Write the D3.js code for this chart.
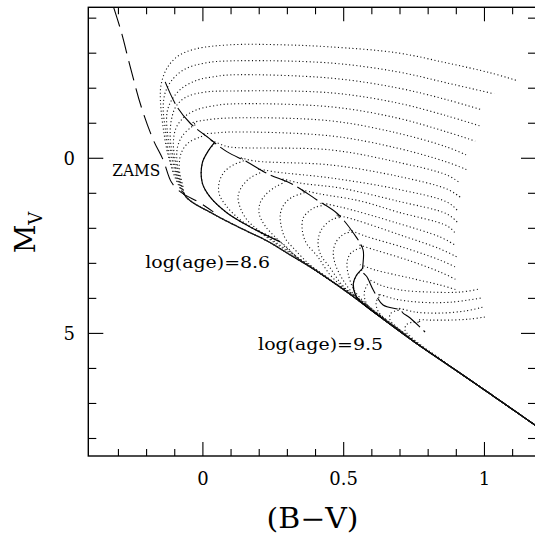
<!DOCTYPE html>
<html><head><meta charset="utf-8">
<script src="https://cdn.jsdelivr.net/npm/d3@7"></script>
<style>body{margin:0;background:#fff}svg{display:block}</style>
</head><body><svg id="c" width="535" height="536"></svg>
<script>
// ---------------- data ----------------
// shared lower main sequence (B-V, M_V)
const msBV = [1.18, 0.985, 0.867, 0.747, 0.63, 0.512, 0.392, 0.31, 0.228, 0.133, 0.037, -0.059];
const msMV = [7.62, 6.53, 5.88, 5.22, 4.53, 3.82, 3.16, 2.76, 2.36, 1.99, 1.59, 1.11];

// zero-age main sequence (long dashes)
const zamsBV = [-0.317, -0.290, -0.258, -0.219, -0.176, -0.141, -0.112, -0.080, -0.009, 0.037];
const zamsMV = [-4.31, -3.61, -2.61, -1.47, -0.52, 0.05, 0.68, 0.96, 1.28, 1.53];

// envelope line (dashed) through the turn-off hooks
const envBV = [-0.134,-0.092,-0.045,0.014,0.085,0.156,0.227,0.322,0.405,0.476,0.535,0.569,0.569,0.583,0.605,0.640,0.701,0.711,0.736,0.789];
const envMV = [-2.18,-1.47,-1.00,-0.62,-0.19,0.10,0.43,0.76,1.19,1.57,2.14,2.62,3.25,3.39,3.76,4.19,4.33,4.42,4.56,4.96];

// isochrones above the main sequence: [B-V, M_V]
const iso79 = [[-0.095,0.62],[-0.123,-0.07],[-0.141,-0.87],[-0.151,-1.67],[-0.148,-2.12],[-0.127,-2.58],[-0.088,-2.92],[-0.027,-3.12],[0.097,-3.24],[0.275,-3.24],[0.452,-3.18],[0.690,-3.01],[0.867,-2.72],[1.020,-2.44],[1.119,-2.21]];
const iso80 = [[-0.091,0.62],[-0.119,-0.07],[-0.134,-0.87],[-0.141,-1.44],[-0.134,-1.87],[-0.109,-2.24],[-0.063,-2.55],[0.008,-2.72],[0.097,-2.78],[0.452,-2.72],[0.690,-2.47],[0.867,-2.15],[1.034,-1.84]];
const iso81 = [[-0.088,0.62],[-0.112,-0.07],[-0.127,-0.81],[-0.127,-1.32],[-0.109,-1.69],[-0.073,-2.01],[-0.017,-2.24],[0.033,-2.32],[0.097,-2.38],[0.452,-2.29],[0.690,-2.01],[0.867,-1.67],[0.992,-1.38]];
const iso82 = [[-0.084,0.65],[-0.105,-0.01],[-0.116,-0.58],[-0.112,-1.09],[-0.095,-1.49],[-0.059,-1.75],[0.008,-1.89],[0.097,-1.92],[0.452,-1.87],[0.690,-1.58],[0.867,-1.21],[0.985,-0.92]];
const iso83 = [[-0.080,0.68],[-0.098,0.05],[-0.105,-0.44],[-0.095,-0.87],[-0.066,-1.18],[-0.024,-1.38],[0.033,-1.49],[0.097,-1.55],[0.452,-1.47],[0.690,-1.15],[0.867,-0.75],[0.967,-0.49]];
const iso84 = [[-0.077,0.71],[-0.091,0.16],[-0.091,-0.29],[-0.073,-0.64],[-0.041,-0.89],[-0.024,-0.98],[-0.038,-1.01],[0.008,-1.09],[0.097,-1.15],[0.452,-1.07],[0.690,-0.72],[0.867,-0.32],[0.942,-0.07]];
const iso85 = [[-0.073,0.73],[-0.084,0.28],[-0.077,-0.15],[-0.052,-0.44],[-0.009,-0.61],[0.012,-0.67],[-0.002,-0.69],[0.044,-0.72],[0.097,-0.75],[0.452,-0.64],[0.690,-0.29],[0.867,0.11],[0.938,0.33]];
const iso86 = [[0.346,2.91],[0.275,2.39],[0.168,1.96],[0.086,1.56],[0.026,1.11],[-0.002,0.71],[-0.002,0.13],[0.019,-0.21],[0.040,-0.44],[0.026,-0.52],[0.069,-0.38],[0.097,-0.32],[0.452,-0.24],[0.690,0.11],[0.867,0.48],[0.914,0.71]];
const iso87 = [[0.374,3.05],[0.292,2.62],[0.204,2.13],[0.133,1.76],[0.083,1.36],[0.058,1.02],[0.058,0.68],[0.076,0.39],[0.108,0.19],[0.147,0.05],[0.133,-0.01],[0.186,0.08],[0.452,0.19],[0.690,0.51],[0.867,0.88],[0.914,1.11]];
const iso88 = [[0.434,3.36],[0.346,2.88],[0.257,2.39],[0.196,2.05],[0.157,1.76],[0.133,1.42],[0.125,1.08],[0.140,0.79],[0.168,0.56],[0.211,0.36],[0.196,0.31],[0.257,0.39],[0.452,0.56],[0.690,0.88],[0.867,1.25],[0.903,1.48]];
const iso89 = [[0.488,3.68],[0.409,3.22],[0.338,2.85],[0.267,2.33],[0.221,1.93],[0.200,1.59],[0.203,1.28],[0.225,1.02],[0.257,0.82],[0.292,0.65],[0.278,0.59],[0.346,0.71],[0.488,0.85],[0.690,1.22],[0.867,1.59],[0.903,1.82]];
const iso90 = [[0.541,3.93],[0.452,3.48],[0.381,3.05],[0.328,2.62],[0.292,2.28],[0.278,1.93],[0.275,1.59],[0.289,1.31],[0.317,1.11],[0.363,0.96],[0.349,0.91],[0.417,1.02],[0.559,1.22],[0.690,1.53],[0.867,1.93],[0.896,2.13]];
const iso91 = [[0.587,4.22],[0.505,3.73],[0.452,3.33],[0.406,2.79],[0.367,2.42],[0.353,2.05],[0.356,1.71],[0.377,1.51],[0.402,1.39],[0.431,1.33],[0.417,1.28],[0.488,1.39],[0.690,1.85],[0.843,2.25],[0.896,2.48]];
const iso92 = [[0.630,4.48],[0.559,4.05],[0.498,3.65],[0.452,3.13],[0.417,2.73],[0.409,2.36],[0.420,2.05],[0.441,1.85],[0.463,1.73],[0.488,1.68],[0.473,1.62],[0.541,1.76],[0.701,2.19],[0.843,2.59],[0.903,2.82]];
const iso93 = [[0.672,4.76],[0.601,4.33],[0.541,3.93],[0.498,3.48],[0.470,3.02],[0.463,2.68],[0.473,2.39],[0.491,2.22],[0.509,2.13],[0.530,2.11],[0.520,2.05],[0.576,2.22],[0.718,2.56],[0.843,2.91],[0.903,3.13]];
const iso94 = [[0.701,4.91],[0.637,4.53],[0.580,4.16],[0.537,3.76],[0.516,3.30],[0.512,2.96],[0.523,2.73],[0.541,2.62],[0.566,2.53],[0.555,2.48],[0.612,2.62],[0.736,2.93],[0.843,3.25],[0.903,3.48]];
const iso95 = [[0.729,5.11],[0.637,4.56],[0.583,4.25],[0.544,3.93],[0.534,3.59],[0.544,3.36],[0.569,3.13],[0.559,3.05],[0.612,3.19],[0.736,3.42],[0.843,3.62],[0.903,3.76]];
const iso96 = [[0.743,5.19],[0.665,4.73],[0.612,4.42],[0.580,4.13],[0.573,3.85],[0.583,3.62],[0.594,3.51],[0.587,3.45],[0.630,3.62],[0.701,3.76],[0.807,3.82],[0.914,3.82],[0.985,3.73]];
const iso97 = [[0.772,5.36],[0.701,4.91],[0.651,4.62],[0.622,4.36],[0.615,4.13],[0.622,3.99],[0.630,3.93],[0.622,3.88],[0.683,4.02],[0.772,4.11],[0.878,4.11],[0.988,3.99]];
const iso98 = [[0.807,5.56],[0.743,5.16],[0.693,4.85],[0.665,4.62],[0.665,4.45],[0.683,4.36],[0.701,4.33],[0.693,4.28],[0.754,4.39],[0.843,4.42],[0.931,4.36],[0.995,4.25]];
const iso99 = [[0.850,5.76],[0.789,5.42],[0.743,5.13],[0.718,4.91],[0.722,4.76],[0.743,4.68],[0.772,4.68],[0.764,4.62],[0.807,4.62],[0.878,4.62],[0.949,4.59],[1.003,4.53]];

const isoAges = [7.9,8.0,8.1,8.2,8.3,8.4,8.5,8.6,8.7,8.8,8.9,9.0,9.1,9.2,9.3,9.4,9.5,9.6,9.7,9.8,9.9];
const isoTracks = [iso79,iso80,iso81,iso82,iso83,iso84,iso85,iso86,iso87,iso88,iso89,iso90,iso91,iso92,iso93,iso94,iso95,iso96,iso97,iso98,iso99];

// highlighted (solid) isochrone portions: age and point-index range
const highlightAges = [8.6, 9.5];
const highlightRanges = [[1, 8], [1, 6]];

// labels
const labelTexts = ["ZAMS", "log(age)=8.6", "log(age)=9.5"];
const labelBV = [-0.322, -0.205, 0.196];
const labelMV = [0.51, 3.13, 5.48];

// axes
const xMajorTicks = [0, 0.5, 1];
const xTickLabels = ["0", "0.5", "1"];
const xMinorTicks = [-0.3,-0.2,-0.1,0.1,0.2,0.3,0.4,0.6,0.7,0.8,0.9,1.1];
const yMajorTicks = [0, 5];
const yTickLabels = ["0", "5"];
const yMinorTicks = [-4,-3,-2,-1,1,2,3,4,6,7,8];

// ---------------- drawing ----------------
const L = 88.3, R = 536, T = 7.3, B = 456;
const x = d3.scaleLinear().domain([-0.407, 1.183]).range([L, R]);
const y = d3.scaleLinear().domain([-4.31, 8.5]).range([T, B]);
const svg = d3.select("#c");
const font = "'DejaVu Serif', 'Liberation Serif', serif";

svg.append("defs").append("clipPath").attr("id","clip")
  .append("rect").attr("x",L).attr("y",T).attr("width",R-L).attr("height",B-T);
const g = svg.append("g").attr("clip-path","url(#clip)");

const line = d3.line().x(d=>x(d[0])).y(d=>y(d[1])).curve(d3.curveCatmullRom.alpha(0.5));
const msPts = msBV.map((b,i)=>[b, msMV[i]]);
function fullTrack(own){
  const first = own[0][0];
  return msPts.filter(p=>p[0] > first + 1e-9).concat(own);
}

isoTracks.forEach((t,k)=>{
  g.append("path").attr("d", line(fullTrack(t)))
    .attr("fill","none").attr("stroke","#111").attr("stroke-width",1.1)
    .attr("stroke-dasharray","1.1,2.5").attr("stroke-dashoffset", (k*0.6)%3.6);
});

highlightAges.forEach((a,i)=>{
  const t = isoTracks[isoAges.indexOf(a)];
  const r = highlightRanges[i];
  g.append("path").attr("d", line(t.slice(r[0], r[1]+1)))
    .attr("fill","none").attr("stroke","#000").attr("stroke-width",1.2);
});

g.append("path").attr("d", line(envBV.map((b,i)=>[b, envMV[i]])))
  .attr("fill","none").attr("stroke","#000").attr("stroke-width",1.1)
  .attr("stroke-dasharray","24,5");

g.append("path").attr("d", line(zamsBV.map((b,i)=>[b, zamsMV[i]])))
  .attr("fill","none").attr("stroke","#000").attr("stroke-width",1.1)
  .attr("stroke-dasharray","20,8");

// frame
svg.append("rect").attr("x",L).attr("y",T).attr("width",R-L).attr("height",B-T)
  .attr("fill","none").attr("stroke","#000").attr("stroke-width",1.4);

// ticks (inward, all four sides)
const tk = svg.append("g").attr("stroke","#000").attr("stroke-width",1.1);
function xt(v,len){
  tk.append("line").attr("x1",x(v)).attr("x2",x(v)).attr("y1",B).attr("y2",B-len);
  tk.append("line").attr("x1",x(v)).attr("x2",x(v)).attr("y1",T).attr("y2",T+len);
}
function yt(v,len){
  tk.append("line").attr("y1",y(v)).attr("y2",y(v)).attr("x1",L).attr("x2",L+len);
  tk.append("line").attr("y1",y(v)).attr("y2",y(v)).attr("x1",R).attr("x2",R-len);
}
xMajorTicks.forEach(v=>xt(v,14)); xMinorTicks.forEach(v=>xt(v,7));
yMajorTicks.forEach(v=>yt(v,15)); yMinorTicks.forEach(v=>yt(v,8));

// tick labels
xMajorTicks.forEach((v,i)=>{
  svg.append("text").attr("x",x(v)).attr("y",485).attr("text-anchor","middle")
    .attr("font-family",font).attr("font-size",18).text(xTickLabels[i]);
});
yMajorTicks.forEach((v,i)=>{
  svg.append("text").attr("x",75).attr("y",y(v)+6.5).attr("text-anchor","end")
    .attr("font-family",font).attr("font-size",18).text(yTickLabels[i]);
});

// axis titles
svg.append("text").attr("x",312.5).attr("y",528).attr("text-anchor","middle")
  .attr("font-family",font).attr("font-size",27)
  .attr("textLength",92).attr("lengthAdjust","spacingAndGlyphs").text("(B\u2212V)");
const yl = svg.append("text").attr("transform","translate(35,232.5) rotate(-90)")
  .attr("text-anchor","middle").attr("font-family",font).attr("font-size",28);
yl.append("tspan").text("M");
yl.append("tspan").attr("font-size",18).attr("dy",7).text("V");

// labels
const lw = [48, 125, 125];
const ls = [16.5, 17, 17];
labelTexts.forEach((t,i)=>{
  svg.append("text").attr("x",x(labelBV[i])).attr("y",y(labelMV[i]))
    .attr("font-family",font).attr("font-size",ls[i])
    .attr("textLength",lw[i]).attr("lengthAdjust","spacingAndGlyphs").text(t);
});
</script></body></html>
